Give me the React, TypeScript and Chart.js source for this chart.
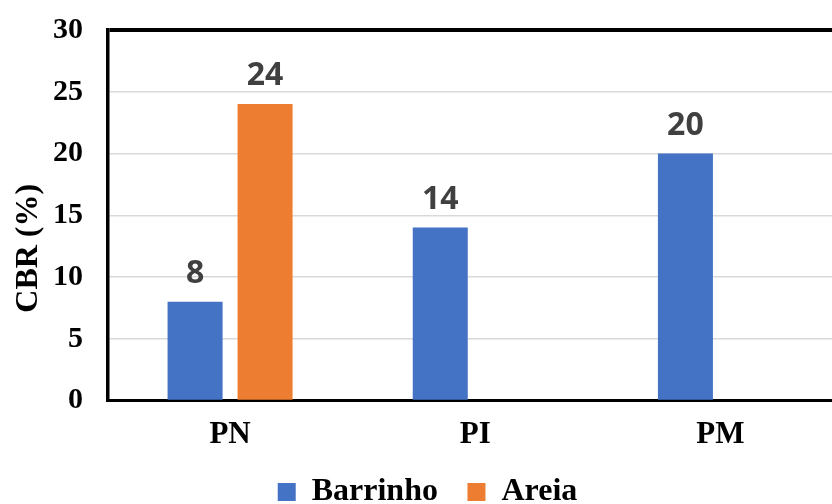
import { useEffect, useRef } from "react";
import { Chart, registerables } from "chart.js";

Chart.register(...registerables);

// CBR results per compaction energy
const categories = ["PN", "PI", "PM"];
const barrinho = [8, 14, 20];
const areia: (number | null)[] = [24, null, null];
const seriesNames = ["Barrinho", "Areia"];
const seriesColors = ["#4472C4", "#ED7D31"];
const yMin = 0;
const yMax = 30;
const yStep = 5;
const yTitle = "CBR (%)";

const SERIF = '"Liberation Serif", "Times New Roman", serif';
const SANS = '"Open Sans", "Liberation Sans", sans-serif';

// value written above each bar
const valueLabels = {
  id: "valueLabels",
  afterDatasetsDraw(chart: any) {
    const ctx = chart.ctx;
    ctx.save();
    ctx.font = `700 32px ${SANS}`;
    ctx.fillStyle = "#404040";
    ctx.textAlign = "center";
    ctx.textBaseline = "alphabetic";
    chart.data.datasets.forEach((ds: any, i: number) => {
      const meta = chart.getDatasetMeta(i);
      meta.data.forEach((bar: any, j: number) => {
        const v = ds.data[j];
        if (v == null) return;
        ctx.fillText(String(v), bar.x, bar.y - 19);
      });
    });
    ctx.restore();
  },
};

// rotated y-axis title, sitting a little below the axis middle
const axisTitle = {
  id: "axisTitle",
  afterDraw(chart: any) {
    const { ctx, chartArea } = chart;
    ctx.save();
    ctx.translate(chartArea.left - 79, (chartArea.top + chartArea.bottom) / 2 + 33);
    ctx.rotate(-Math.PI / 2);
    ctx.font = `700 32px ${SERIF}`;
    ctx.fillStyle = "#000";
    ctx.textAlign = "center";
    ctx.textBaseline = "middle";
    ctx.fillText(yTitle, 0, 0);
    ctx.restore();
  },
};

export default function App() {
  const canvasRef = useRef<HTMLCanvasElement | null>(null);

  useEffect(() => {
    const canvas = canvasRef.current;
    if (!canvas) return;
    const chart = new Chart(canvas, {
      type: "bar",
      data: {
        labels: categories,
        datasets: [
          {
            label: seriesNames[0],
            data: barrinho,
            backgroundColor: seriesColors[0],
            borderWidth: 0,
            categoryPercentage: 0.571,
            barPercentage: 0.786,
          },
          {
            label: seriesNames[1],
            data: areia,
            backgroundColor: seriesColors[1],
            borderWidth: 0,
            categoryPercentage: 0.571,
            barPercentage: 0.786,
          },
        ],
      },
      options: {
        responsive: false,
        animation: false,
        layout: { padding: { top: 0, right: 7, left: 12, bottom: 0 } },
        plugins: {
          tooltip: { enabled: false },
          legend: {
            position: "bottom",
            labels: {
              color: "#000",
              font: { family: SERIF, size: 32, weight: "bold" },
              boxWidth: 18,
              boxHeight: 18,
              padding: 29.5,
            },
          },
        },
        scales: {
          x: {
            afterFit(scale: any) {
              scale.height = 46;
            },
            grid: { display: false, drawTicks: false },
            border: { display: true, color: "#000", width: 3 },
            ticks: {
              color: "#000",
              font: { family: SERIF, size: 31, weight: "bold" },
              padding: 16,
            },
          },
          y: {
            min: yMin,
            max: yMax,
            afterFit(scale: any) {
              scale.width = 95.5;
            },
            ticks: {
              stepSize: yStep,
              color: "#000",
              font: { family: SERIF, size: 30, weight: "bold" },
              padding: 12,
            },
            grid: {
              drawTicks: true,
              tickLength: 12.5,
              tickColor: "rgba(0,0,0,0)",
              color: (c: any) => (c.tick && c.tick.value === yMax ? "#000" : "#d9d9d9"),
              lineWidth: (c: any) => (c.tick && c.tick.value === yMax ? 4 : 1.5),
            },
            border: { display: true, color: "#000", width: 3.5 },
          },
        },
      },
      plugins: [valueLabels, axisTitle],
    });
    return () => chart.destroy();
  }, []);

  return (
    <div
      style={{
        position: "fixed",
        left: 0,
        top: 0,
        width: 832,
        height: 504,
        overflow: "hidden",
        background: "#fff",
      }}
    >
      <canvas ref={canvasRef} width={850} height={518} style={{ display: "block" }} />
    </div>
  );
}
